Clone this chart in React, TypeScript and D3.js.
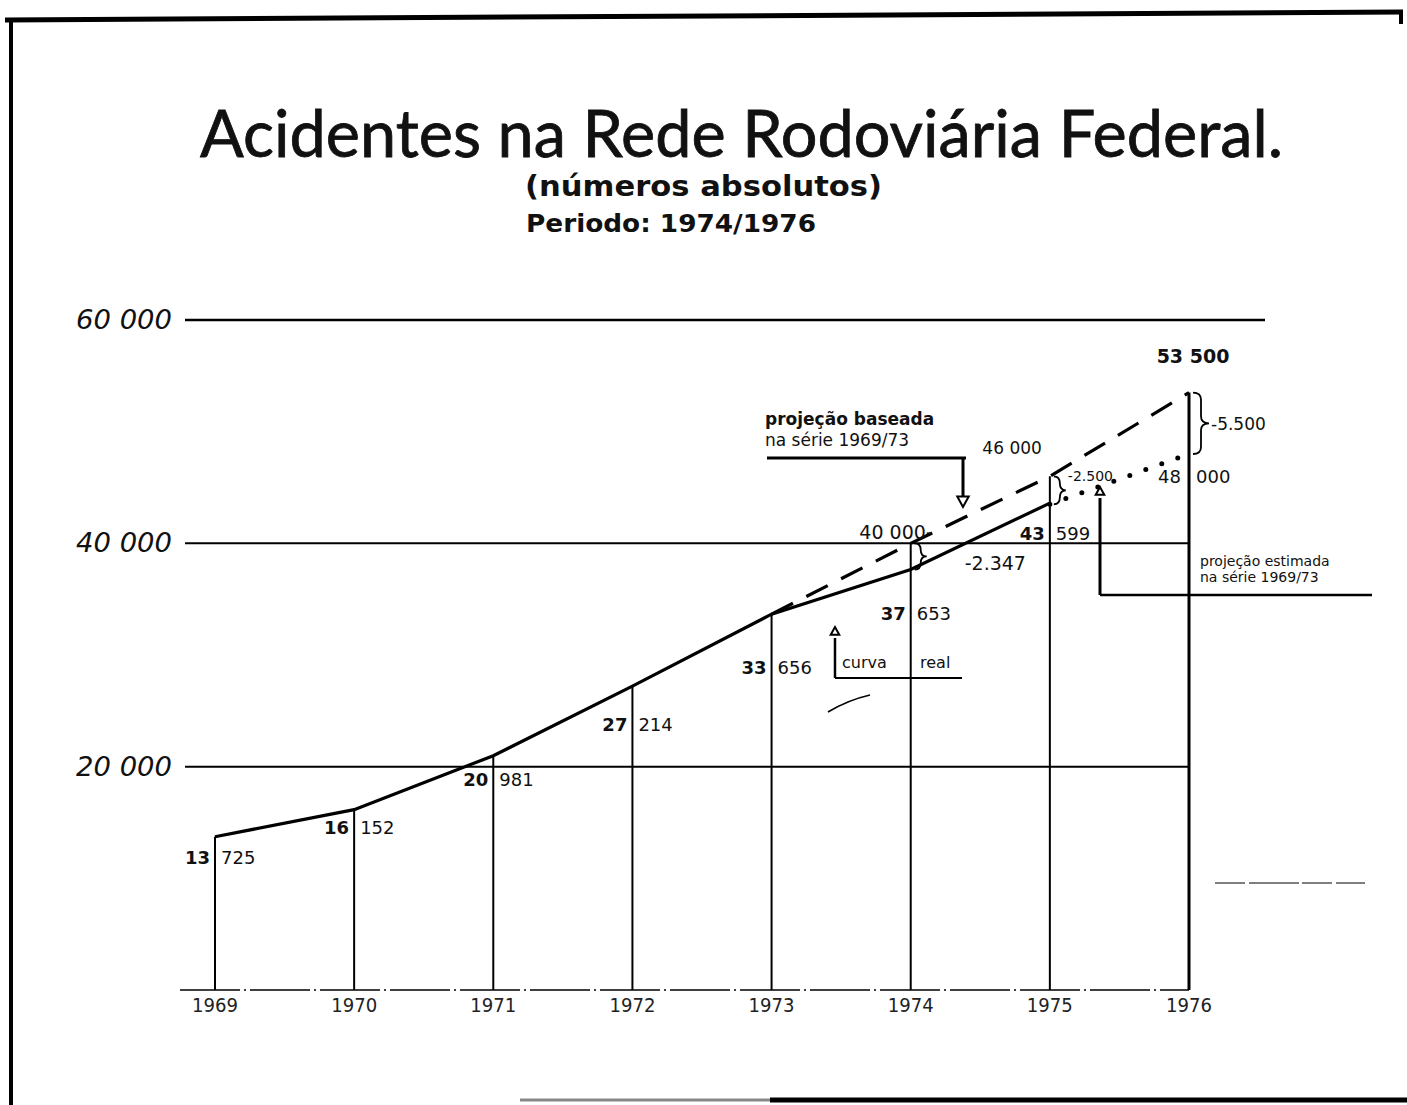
import React from "react";
import * as d3 from "d3";

// ---- data ----
const years = [1969, 1970, 1971, 1972, 1973, 1974, 1975, 1976];
const realYears = [1969, 1970, 1971, 1972, 1973, 1974, 1975];
const realValues = [13725, 16152, 20981, 27214, 33656, 37653, 43599];
const baseProjYears = [1973, 1974, 1975, 1976];
const baseProjValues = [33656, 40000, 46000, 53500];
const estProjYears = [1975, 1976];
const estProjValues = [43500, 48000];
const gridTicks = [20000, 40000, 60000];
const gridTickLabels = ["20 000", "40 000", "60 000"];
const diffYears = [1974, 1975, 1976];
const diffLabels = ["-2.347", "-2.500", "-5.500"];

const titleText = "Acidentes na Rede Rodoviária Federal.";
const subtitleText = "(números absolutos)";
const periodText = "Periodo: 1974/1976";

// layout-only offsets for real-value labels (pixels below point)
const realLabelDy = [27, 24, 30, 45, 60, 50, 37];

const FONT = "'DejaVu Sans', 'Noto Sans', sans-serif";

function bracePath(x0: number, y1: number, y2: number, w: number) {
  const mid = (y1 + y2) / 2;
  const r = Math.min(7, (y2 - y1) / 4);
  const xm = x0 + w / 2;
  return `M${x0},${y1} Q${xm},${y1} ${xm},${y1 + r} L${xm},${mid - r} Q${xm},${mid} ${x0 + w},${mid} Q${xm},${mid} ${xm},${mid + r} L${xm},${y2 - r} Q${xm},${y2} ${x0},${y2}`;
}

function triUp(cx: number, tipY: number, s = 7) {
  return `M${cx},${tipY} L${cx - s / 1.4},${tipY + s * 1.3} L${cx + s / 1.4},${tipY + s * 1.3} Z`;
}
function triDown(cx: number, tipY: number, s = 7) {
  return `M${cx},${tipY} L${cx - s / 1.4},${tipY - s * 1.3} L${cx + s / 1.4},${tipY - s * 1.3} Z`;
}

export default function App() {
  const W = 1407;
  const H = 1105;
  const x = d3.scalePoint<number>().domain(years).range([215, 1189]);
  const y = d3.scaleLinear().domain([0, 60000]).range([990, 320]);
  const X = (v: number) => x(v) as number;

  const line = d3
    .line<[number, number]>()
    .x((d) => X(d[0]))
    .y((d) => y(d[1]));

  const realPts = realYears.map((yr, i) => [yr, realValues[i]] as [number, number]);
  const basePts = baseProjYears.map((yr, i) => [yr, baseProjValues[i]] as [number, number]);
  const estPts = estProjYears.map((yr, i) => [yr, estProjValues[i]] as [number, number]);

  const topValue = (yr: number) => {
    const vals: number[] = [];
    realYears.forEach((r, i) => r === yr && vals.push(realValues[i]));
    baseProjYears.forEach((r, i) => r === yr && vals.push(baseProjValues[i]));
    return d3.max(vals) ?? 0;
  };
  const valAt = (ys: number[], vs: number[], yr: number) => vs[ys.indexOf(yr)];

  const split = (v: number) => [String(Math.floor(v / 1000)), String(v % 1000).padStart(3, "0")];

  const gridRight = (t: number) => (t === 60000 ? 1265 : X(1976));

  const x74 = X(1974), x75 = X(1975), x76 = X(1976);

  return (
    <svg
      width={W}
      height={H}
      viewBox={`0 0 ${W} ${H}`}
      style={{ position: "absolute", left: 0, top: 0, background: "#fff" }}
      fontFamily={FONT}
    >
      <rect x={0} y={0} width={W} height={H} fill="#fff" />
      {/* frame */}
      <line x1={5} y1={20} x2={1403} y2={12} stroke="#000" strokeWidth={5} />
      <line x1={11} y1={18} x2={11} y2={H} stroke="#000" strokeWidth={4} />
      <line x1={1401} y1={10} x2={1401} y2={24} stroke="#000" strokeWidth={4} />
      <line x1={520} y1={1100} x2={770} y2={1100} stroke="#888" strokeWidth={3} />
      <line x1={770} y1={1100} x2={W} y2={1100} stroke="#000" strokeWidth={5} />

      {/* titles */}
      <text x={200} y={157} fontSize={66} fontFamily="Lato, 'DejaVu Sans', sans-serif" textLength={1083} lengthAdjust="spacingAndGlyphs" fill="#111" stroke="#111" strokeWidth={0.8}>
        {titleText}
      </text>
      <text x={525} y={196} fontSize={29} fontWeight="bold" textLength={357} lengthAdjust="spacingAndGlyphs" fill="#111">
        {subtitleText}
      </text>
      <text x={526} y={232} fontSize={24} fontWeight="bold" textLength={290} lengthAdjust="spacingAndGlyphs" fill="#111">
        {periodText}
      </text>

      {/* gridlines and tick labels */}
      {gridTicks.map((t, i) => (
        <g key={t}>
          <line x1={185} x2={gridRight(t)} y1={y(t)} y2={y(t)} stroke="#000" strokeWidth={t === 60000 ? 2.5 : 2} />
          <text x={172} y={y(t) + 9} fontSize={27} fontStyle="italic" textAnchor="end" textLength={96} lengthAdjust="spacingAndGlyphs" fill="#111">
            {gridTickLabels[i]}
          </text>
        </g>
      ))}
      {/* baseline */}
      <line x1={180} x2={x76} y1={y(0)} y2={y(0)} stroke="#000" strokeWidth={1.6} strokeDasharray="60 4 2 4" />

      {/* year verticals */}
      {years.map((yr) => (
        <line key={yr} x1={X(yr)} x2={X(yr)} y1={y(topValue(yr))} y2={y(0)} stroke="#000" strokeWidth={yr === 1976 ? 3 : 2} />
      ))}

      {/* year labels */}
      {years.map((yr) => (
        <text key={yr} x={X(yr)} y={1012} fontSize={19} textAnchor="middle" textLength={46} lengthAdjust="spacingAndGlyphs" fill="#222">
          {String(yr)}
        </text>
      ))}

      {/* series */}
      <path d={line(basePts) ?? ""} fill="none" stroke="#000" strokeWidth={3.2} strokeDasharray="24 15" />
      <path d={line(realPts) ?? ""} fill="none" stroke="#000" strokeWidth={3.2} />
      <path d={line(estPts) ?? ""} fill="none" stroke="#000" strokeWidth={5} strokeDasharray="0 17" strokeLinecap="round" />

      {/* real value labels */}
      {realYears.map((yr, i) => {
        const [a, b] = split(realValues[i]);
        const ly = y(realValues[i]) + realLabelDy[i];
        return (
          <g key={yr} fontSize={18} fill="#111">
            <text x={X(yr) - 5} y={ly} textAnchor="end" fontWeight="bold">{a}</text>
            <text x={X(yr) + 6} y={ly}>{b}</text>
          </g>
        );
      })}

      {/* projection value labels */}
      {(() => {
        const [a, b] = split(estProjValues[1]);
        const ly = y(estProjValues[1]) + 29;
        return (
          <g fontSize={18} fill="#111">
            <text x={x76 - 8} y={ly} textAnchor="end">{a}</text>
            <text x={x76 + 7} y={ly}>{b}</text>
          </g>
        );
      })()}
      <text x={x76 + 4} y={y(53500) - 30} fontSize={19} textAnchor="middle" fontWeight="bold" fill="#111">
        {"53 500"}
      </text>
      <text x={x75 - 8} y={y(46000) - 22} fontSize={17} textAnchor="end" fill="#111">
        {"46 000"}
      </text>
      <text x={x74 + 22} y={y(40000) - 4} fontSize={19} textAnchor="end" fill="#111">
        {"40 000-"}
      </text>

      {/* braces with differences */}
      {diffYears.map((yr, i) => {
        const top = valAt(baseProjYears, baseProjValues, yr);
        const bot = yr === 1974 ? valAt(realYears, realValues, yr) : valAt(estProjYears, estProjValues, yr);
        const bx = X(yr) + 4;
        const y1 = y(top), y2 = y(bot);
        const w = yr === 1976 ? 16 : 12;
        const tx = yr === 1974 ? bx + 50 : yr === 1975 ? bx + w + 2 : bx + w + 2;
        const ty = yr === 1974 ? y2 + 0 : yr === 1975 ? y1 + 5 : (y1 + y2) / 2 + 7;
        return (
          <g key={yr}>
            <path d={bracePath(bx, y1, y2, w)} fill="none" stroke="#000" strokeWidth={1.8} />
            <text x={tx} y={ty} fontSize={yr === 1974 ? 19 : yr === 1975 ? 14 : 17} fill="#111">{diffLabels[i]}</text>
          </g>
        );
      })}

      {/* annotation: projeção baseada */}
      <g fill="#111" fontSize={17}>
        <text x={765} y={425} fontWeight="bold">projeção baseada</text>
        <text x={765} y={446}>na série 1969/73</text>
      </g>
      <line x1={767} x2={966} y1={458} y2={458} stroke="#000" strokeWidth={3} />
      <line x1={963} x2={963} y1={458} y2={496} stroke="#000" strokeWidth={3} />
      <path d={triDown(963, 507, 8)} fill="#fff" stroke="#000" strokeWidth={2} />

      {/* annotation: curva real */}
      <g fill="#111" fontSize={16}>
        <text x={842} y={668}>curva</text>
        <text x={920} y={668}>real</text>
      </g>
      <line x1={835} x2={962} y1={678} y2={678} stroke="#000" strokeWidth={2} />
      <line x1={835} x2={835} y1={678} y2={638} stroke="#000" strokeWidth={2.5} />
      <path d={triUp(835, 627, 6)} fill="#fff" stroke="#000" strokeWidth={2} />

      {/* annotation: projeção estimada */}
      <g fill="#111" fontSize={14}>
        <text x={1200} y={566}>projeção estimada</text>
        <text x={1200} y={582}>na série 1969/73</text>
      </g>
      <line x1={1100} x2={1100} y1={498} y2={595} stroke="#000" strokeWidth={3} />
      <line x1={1100} x2={1372} y1={595} y2={595} stroke="#000" strokeWidth={2.5} />
      <path d={triUp(1100, 487, 6)} fill="#fff" stroke="#000" strokeWidth={2} />

      {/* small stray marks from the original */}
      <path d="M828,712 Q848,700 870,695" fill="none" stroke="#000" strokeWidth={1.5} />
      <line x1={1215} x2={1365} y1={883} y2={883} stroke="#000" strokeWidth={1.2} strokeDasharray="30 4 50 3" />
    </svg>
  );
}
